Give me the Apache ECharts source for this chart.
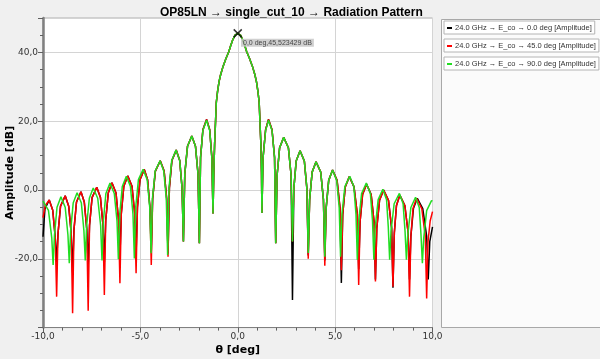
<!DOCTYPE html>
<html>
<head>
<meta charset="utf-8">
<script src="https://cdn.jsdelivr.net/npm/echarts@6/dist/echarts.min.js"></script>
<style>html,body{margin:0;padding:0;background:#f0f0f0;}#c{width:600px;height:359px;}</style>
</head>
<body>
<div id="c"></div>
<script>
const titleText = 'OP85LN \u2192 single_cut_10 \u2192 Radiation Pattern';
const seriesNames = [
  '24.0 GHz \u2192 E_co \u2192 0.0 deg [Amplitude]',
  '24.0 GHz \u2192 E_co \u2192 45.0 deg [Amplitude]',
  '24.0 GHz \u2192 E_co \u2192 90.0 deg [Amplitude]'
];
const seriesColors = ['#000000', '#ff0000', '#22dd22'];
const markerPoint = [0, 45.523429];
const markerLabel = '0,0 deg,45,523429 dB';

const blackData = [
[-10,-13.6],[-9.9,-5.5],[-9.68,-2.9],[-9.5,-5.9],[-9.37,-13.9],[-9.3,-21],
[-9.23,-12.7],[-9.1,-4.7],[-8.86,-1.7],[-8.68,-4.7],[-8.55,-12.7],[-8.48,-24],
[-8.41,-11.5],[-8.28,-3.5],[-8.05,-0.5],[-7.88,-3.5],[-7.75,-11.5],[-7.68,-22],
[-7.61,-10.2],[-7.48,-2.2],[-7.24,0.8],[-7.05,-2.2],[-6.92,-10.2],[-6.85,-21],
[-6.78,-8.9],[-6.65,-0.9],[-6.46,2.1],[-6.25,-0.9],[-6.12,-8.9],[-6.05,-19.5],
[-5.98,-6.9],[-5.85,1.1],[-5.65,4.1],[-5.43,1.1],[-5.29,-6.9],[-5.22,-18.5],
[-5.15,-5],[-5.02,3],[-4.8,6],[-4.63,3],[-4.51,-5],[-4.44,-18],
[-4.37,-2.5],[-4.23,5.5],[-3.98,8.5],[-3.78,5.5],[-3.65,-2.5],[-3.58,-18.5],
[-3.51,0.6],[-3.38,8.6],[-3.16,11.6],[-2.98,8.6],[-2.86,0.6],[-2.79,-15],
[-2.72,4.7],[-2.58,12.7],[-2.36,15.7],[-2.17,12.7],[-2.04,4.7],[-1.97,-15.5],
[-1.91,9.5],[-1.79,17.5],[-1.6,20.5],[-1.44,17.5],[-1.33,9.5],[-1.27,-6.8],
[-1.23,5],[-1.19,13],[-1.14,20],[-1.1,25.5],[-1.04,28.5],[-0.96,31.5],[-0.88,33.5],[-0.75,36],[-0.6,38.3],[-0.46,40.2],[-0.36,42],[-0.26,43.6],[-0.14,45],[0,45.52],
[0.14,45],[0.26,43.6],[0.36,42],[0.46,40.2],[0.6,38.3],[0.75,36],[0.88,33.5],[0.96,31.5],[1.04,28.5],[1.1,25.5],[1.14,20],[1.19,13],[1.22,5],[1.24,-6.7],
[1.3,9.5],[1.43,17.5],[1.58,20.5],[1.76,17.5],[1.89,9.5],[1.95,-15.5],
[2.02,4.3],[2.15,12.3],[2.36,15.3],[2.6,12.3],[2.74,4.3],[2.81,-32],
[2.88,0.4],[3.0,8.4],[3.2,11.4],[3.42,8.4],[3.55,0.4],[3.62,-19],
[3.69,-2.8],[3.82,5.2],[4.02,8.2],[4.26,5.2],[4.4,-2.8],[4.47,-20.5],
[4.54,-5.2],[4.67,2.8],[4.87,5.8],[5.1,2.8],[5.25,-5.2],[5.32,-27],
[5.39,-7.1],[5.52,0.9],[5.73,3.9],[5.97,0.9],[6.14,-7.1],[6.21,-23],
[6.28,-9.3],[6.41,-1.3],[6.61,1.7],[6.85,-1.3],[7.0,-9.3],[7.07,-26],
[7.14,-11],[7.28,-3],[7.49,0],[7.74,-3],[7.9,-11],[7.97,-28.4],
[8.04,-12.5],[8.15,-4.5],[8.32,-1.5],[8.58,-4.5],[8.75,-12.5],[8.82,-26],
[8.89,-13.4],[9.02,-5.4],[9.22,-2.4],[9.5,-5.4],[9.7,-13.4],[9.78,-26],
[9.86,-15],[10,-10.7]
];

const redData = [
[-10,-8],[-9.88,-4.5],[-9.68,-2.9],[-9.5,-5.9],[-9.37,-13.9],[-9.3,-31],
[-9.23,-12.7],[-9.1,-4.7],[-8.86,-1.7],[-8.68,-4.7],[-8.55,-12.7],[-8.48,-35.8],
[-8.41,-11.5],[-8.28,-3.5],[-8.05,-0.5],[-7.88,-3.5],[-7.75,-11.5],[-7.68,-35.1],
[-7.61,-10.2],[-7.48,-2.2],[-7.24,0.8],[-7.05,-2.2],[-6.92,-10.2],[-6.85,-30.5],
[-6.78,-8.9],[-6.65,-0.9],[-6.46,2.1],[-6.25,-0.9],[-6.12,-8.9],[-6.05,-27.1],
[-5.98,-6.9],[-5.85,1.1],[-5.65,4.1],[-5.43,1.1],[-5.29,-6.9],[-5.22,-24.2],
[-5.15,-5],[-5.02,3],[-4.8,6],[-4.63,3],[-4.51,-5],[-4.44,-21.8],
[-4.37,-2.5],[-4.23,5.5],[-3.98,8.5],[-3.78,5.5],[-3.65,-2.5],[-3.58,-19.4],
[-3.51,0.6],[-3.38,8.6],[-3.16,11.6],[-2.98,8.6],[-2.86,0.6],[-2.79,-15],
[-2.72,4.7],[-2.58,12.7],[-2.36,15.7],[-2.17,12.7],[-2.04,4.7],[-1.97,-15.5],
[-1.91,9.5],[-1.79,17.5],[-1.6,20.5],[-1.44,17.5],[-1.33,9.5],[-1.27,-6.8],
[-1.23,5],[-1.19,13],[-1.14,20],[-1.1,25.5],[-1.04,28.5],[-0.96,31.5],[-0.88,33.5],[-0.75,36],[-0.6,38.3],[-0.46,40.2],[-0.36,42],[-0.26,43.6],[-0.14,45],[0,45.52],
[0.14,45],[0.26,43.6],[0.36,42],[0.46,40.2],[0.6,38.3],[0.75,36],[0.88,33.5],[0.96,31.5],[1.04,28.5],[1.1,25.5],[1.14,20],[1.19,13],[1.22,5],[1.24,-6.7],
[1.3,9.5],[1.43,17.5],[1.58,20.5],[1.76,17.5],[1.89,9.5],[1.95,-15.5],
[2.02,4.3],[2.15,12.3],[2.36,15.3],[2.6,12.3],[2.74,4.3],[2.81,-15],
[2.88,0.4],[3.0,8.4],[3.2,11.4],[3.42,8.4],[3.55,0.4],[3.62,-20],
[3.69,-2.8],[3.82,5.2],[4.02,8.2],[4.26,5.2],[4.4,-2.8],[4.47,-22],
[4.54,-5.2],[4.67,2.8],[4.87,5.8],[5.1,2.8],[5.25,-5.2],[5.32,-23.3],
[5.39,-7.1],[5.52,0.9],[5.73,3.9],[5.97,0.9],[6.14,-7.1],[6.21,-27.6],
[6.28,-9.3],[6.41,-1.3],[6.61,1.7],[6.85,-1.3],[7.0,-9.3],[7.07,-26.6],
[7.14,-11],[7.28,-3],[7.49,0],[7.74,-3],[7.9,-11],[7.97,-28.1],
[8.04,-12.5],[8.15,-4.5],[8.32,-1.5],[8.58,-4.5],[8.75,-12.5],[8.82,-31],
[8.89,-13.4],[9.0,-5.4],[9.18,-2.4],[9.45,-5.4],[9.63,-13.4],[9.7,-31.5],
[9.77,-15],[9.88,-9],[10,-6.3]
];

const greenData = [
[-10,-3.2],[-9.94,-2.9],[-9.72,-5.9],[-9.55,-13.9],[-9.48,-21.8],
[-9.41,-13],[-9.28,-5],[-9.08,-2],[-8.86,-5],[-8.72,-13],[-8.65,-21.3],
[-8.58,-11.8],[-8.45,-3.8],[-8.25,-0.8],[-8.03,-3.8],[-7.9,-11.8],[-7.83,-20.5],
[-7.76,-10.4],[-7.62,-2.4],[-7.42,0.6],[-7.19,-2.4],[-7.04,-10.4],[-6.97,-20.5],
[-6.9,-9],[-6.77,-1],[-6.56,2],[-6.34,-1],[-6.2,-9],[-6.13,-20.1],
[-6.06,-7],[-5.93,1],[-5.72,4],[-5.51,1],[-5.38,-7],[-5.31,-19.9],
[-5.24,-5],[-5.1,3],[-4.86,6],[-4.65,3],[-4.52,-5],[-4.45,-18.4],
[-4.38,-2.5],[-4.24,5.5],[-3.99,8.5],[-3.8,5.5],[-3.67,-2.5],[-3.6,-18.9],
[-3.53,0.6],[-3.39,8.6],[-3.17,11.6],[-2.98,8.6],[-2.86,0.6],[-2.79,-15],
[-2.72,4.7],[-2.58,12.7],[-2.36,15.7],[-2.17,12.7],[-2.04,4.7],[-1.97,-15.5],
[-1.91,9.3],[-1.79,17.3],[-1.6,20.3],[-1.44,17.3],[-1.33,9.3],[-1.27,-6.8],
[-1.23,5],[-1.19,13],[-1.14,20],[-1.1,25.5],[-1.04,28.5],[-0.96,31.5],[-0.88,33.5],[-0.75,36],[-0.6,38.3],[-0.46,40.2],[-0.36,42],[-0.26,43.6],[-0.14,45],[0,45.52],
[0.14,45],[0.26,43.6],[0.36,42],[0.46,40.2],[0.6,38.3],[0.75,36],[0.88,33.5],[0.96,31.5],[1.04,28.5],[1.1,25.5],[1.14,20],[1.19,13],[1.22,5],[1.24,-6.7],
[1.3,9.3],[1.43,17.3],[1.58,20.3],[1.76,17.3],[1.89,9.3],[1.95,-15.5],
[2.02,4.3],[2.15,12.3],[2.36,15.3],[2.6,12.3],[2.74,4.3],[2.81,-15],
[2.88,0.4],[3.0,8.4],[3.2,11.4],[3.42,8.4],[3.55,0.4],[3.62,-18.3],
[3.69,-2.8],[3.82,5.2],[4.02,8.2],[4.26,5.2],[4.4,-2.8],[4.47,-19.4],
[4.54,-5.2],[4.67,2.8],[4.87,5.8],[5.08,2.8],[5.21,-5.2],[5.28,-19.4],
[5.35,-7],[5.5,1],[5.75,4],[5.96,1],[6.07,-7],[6.14,-20.3],
[6.21,-9],[6.36,-1],[6.6,2],[6.81,-1],[6.92,-9],[6.99,-20.3],
[7.06,-10.8],[7.21,-2.8],[7.45,0.2],[7.64,-2.8],[7.73,-10.8],[7.8,-20.3],
[7.87,-12],[8.03,-4],[8.3,-1],[8.49,-4],[8.59,-12],[8.66,-20.3],
[8.73,-13.1],[8.89,-5.1],[9.13,-2.1],[9.32,-5.1],[9.41,-13.1],[9.48,-21.3],
[9.55,-14],[9.7,-6],[9.95,-3.1],[10,-3.2]
];

const fmt = v => v.toFixed(1).replace('.', ',');
const chart = echarts.init(document.getElementById('c'), null, {renderer: 'canvas'});
const dataSets = [blackData, redData, greenData];
const legendTops = [21, 39, 57];

const option = {
  backgroundColor: '#f0f0f0',
  animation: false,
  title: {
    text: titleText, left: 155, top: 2,
    textStyle: {fontFamily: 'Liberation Sans', fontWeight: 'bold', fontSize: 12, color: '#000'}
  },
  graphic: [{
    type: 'rect', z: -1,
    shape: {x: 441.5, y: 19.5, width: 160, height: 308},
    style: {fill: '#fbfbfb', stroke: '#a8a8a8', lineWidth: 1}
  }],
  legend: seriesNames.map((n, i) => ({
    data: [n], left: 444, top: legendTops[i], orient: 'vertical',
    icon: 'rect', itemWidth: 5, itemHeight: 2, itemGap: 3,
    borderColor: '#b4b4b4', borderWidth: 1, padding: [3, 3, 2, 3],
    backgroundColor: '#ffffff',
    textStyle: {fontFamily: 'Liberation Sans', fontSize: 7.5, color: '#333', padding: [0, 0, 0, -2]}
  })),
  grid: {
    left: 43, right: 600 - 432.5, top: 18, bottom: 359 - 327.6,
    containLabel: false, outerBoundsMode: 'none',
    show: true, backgroundColor: '#ffffff', borderColor: '#b0b0b0', borderWidth: 1
  },
  xAxis: {
    type: 'value', min: -10, max: 10, interval: 5,
    name: '\u03b8 [deg]', nameLocation: 'middle', nameGap: 17, nameMoveOverlap: false,
    nameTextStyle: {fontFamily: 'DejaVu Sans', fontWeight: 'bold', fontSize: 11, color: '#000'},
    axisLine: {show: true, onZero: false, lineStyle: {color: '#808080', width: 1}},
    axisTick: {show: true, length: 5, lineStyle: {color: '#606060'}},
    minorTick: {show: true, splitNumber: 5, length: 3, lineStyle: {color: '#606060'}},
    axisLabel: {formatter: fmt, fontFamily: 'DejaVu Sans', fontSize: 9, color: '#333', margin: 5},
    splitLine: {show: true, lineStyle: {color: '#d4d4d4', width: 1}}
  },
  yAxis: {
    type: 'value', min: -40, max: 50, interval: 20,
    name: 'Amplitude [dB]', nameLocation: 'middle', nameGap: 27, nameMoveOverlap: false,
    nameTextStyle: {fontFamily: 'DejaVu Sans', fontWeight: 'bold', fontSize: 11, color: '#000'},
    axisLine: {show: true, onZero: false, lineStyle: {color: '#808080', width: 2.5}},
    axisTick: {show: true, length: 5, lineStyle: {color: '#606060'}},
    minorTick: {show: true, splitNumber: 4, length: 3, lineStyle: {color: '#606060'}},
    axisLabel: {formatter: fmt, fontFamily: 'DejaVu Sans', fontSize: 9, color: '#333', margin: 5,
      showMinLabel: false, showMaxLabel: false},
    splitLine: {show: true, lineStyle: {color: '#d4d4d4', width: 1}}
  },
  series: seriesNames.map((n, i) => ({
    name: n, type: 'line', data: dataSets[i], showSymbol: false, symbol: 'none',
    color: seriesColors[i], lineStyle: {color: seriesColors[i], width: 1.5}, z: 2 + i
  })).concat([{
    name: 'marker', type: 'scatter', data: [markerPoint], z: 10,
    symbol: 'path://M0,0L10,10M10,0L0,10', symbolSize: 8,
    itemStyle: {color: 'rgba(0,0,0,0)', borderColor: '#000', borderWidth: 1.5},
    label: {show: true, formatter: markerLabel, position: [8, 10], align: 'left', verticalAlign: 'top',
      fontFamily: 'Liberation Sans', fontSize: 7, color: '#222', backgroundColor: '#c4c4c4', padding: [1, 2, 0, 2]}
  }])
};
chart.setOption(option);
</script>
</body>
</html>
